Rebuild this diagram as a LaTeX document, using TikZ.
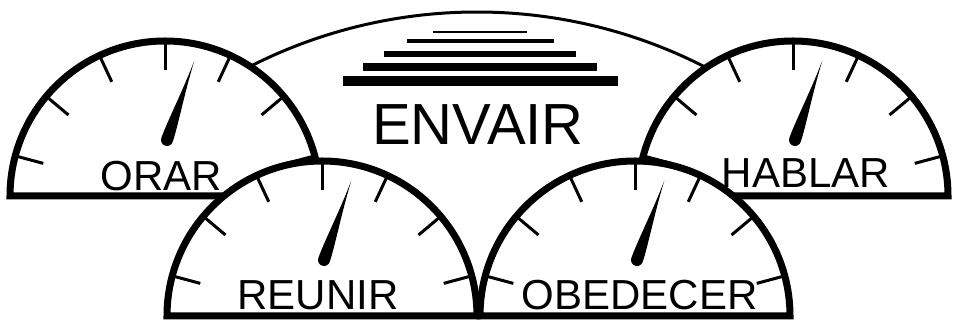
\documentclass[tikz,border=0pt]{standalone}
\usepackage{fontspec}
\setmainfont{Liberation Sans}
\usepackage{tikz}
\usetikzlibrary{positioning}

\begin{document}
\begin{tikzpicture}[
    x=1pt, y=1pt,
    dial/.style={draw=black, fill=white, line width=7, line join=miter},
    tick/.style={line width=3},
    needle/.style={fill=black},
    bar/.style={fill=black},
    dialtext/.style={font=\fontsize{42}{42}\selectfont, anchor=base, inner sep=0pt},
    title/.style={font=\fontsize{58}{58}\selectfont, anchor=base, inner sep=0pt}
]
    \useasboundingbox (0,0) rectangle (955,320);

    % backdrop arc and stacked bars
    \draw[line width=3] (477,-192) ++(119:500) arc[start angle=119, end angle=61, radius=500];
    \foreach \y/\w/\t in {288/47/2, 279/73.5/4, 265.5/96/6, 253/117/8, 239/137.5/10}
        \fill[bar] (480-\w,\y-\t/2) rectangle (480+\w,\y+\t/2);
    \node[title] (envair) at (478,175) {ENVAIR};

    % gauges
    \foreach \gx/\gy/\lx/\ly/\name in {165/124/-4/5/ORAR, 793/124/13/8/HABLAR,
                                     322/4/-4/6/REUNIR, 635/4/4.5/6/OBEDECER} {
        \filldraw[dial] (\gx-155,\gy) arc[start angle=180, end angle=0, radius=155] -- cycle;
        \foreach \a in {15,40,...,165}
            \draw[tick] (\gx,\gy) ++(\a:152) -- ++(\a:-26);
        \begin{scope}[shift={(\gx+2,\gy+56)}, rotate=-19]
            \fill[needle] (0,84) .. controls (1.2,50) and (6,16) .. (6,0)
                arc[start angle=0, end angle=-180, radius=6]
                .. controls (-6,16) and (-1.2,50) .. (0,84) -- cycle;
        \end{scope}
        \node[dialtext] (\name) at (\gx+\lx,\gy+\ly) {\name};
    }
\end{tikzpicture}
\end{document}
